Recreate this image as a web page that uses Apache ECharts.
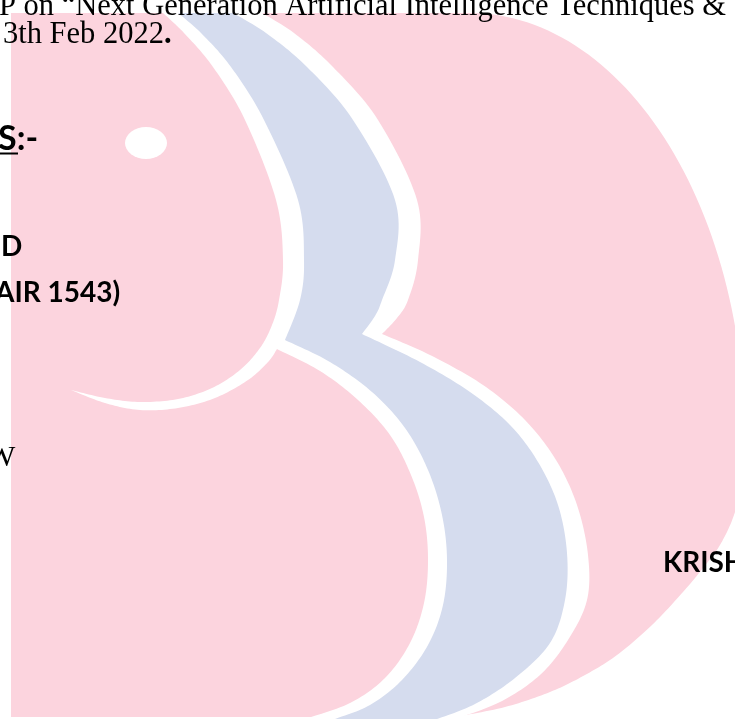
<!DOCTYPE html>
<html><head><meta charset="utf-8">
<script src="https://cdn.jsdelivr.net/npm/echarts@6/dist/echarts.min.js"></script>
<style>html,body{margin:0;padding:0;background:#fff;overflow:hidden}#c{width:735px;height:719px}</style>
</head><body><div id="c"></div>
<script>
// ---- text content ----
const headerLines = ['P on \u201cNext Generation Artificial Intelligence Techniques &', '3th Feb 2022'];
const headingLabel = 'S:-';
const boldLabels = ['D', 'AIR 1543)', 'KRISH'];
const serifFragment = 'W';

// ---- logo outline geometry ----
const dTopEdge = [[11, 13], [470, 13]];
const dUpperEllipse = {cx: 470, cy: 440, rx: 275, ry: 427};
const dLowerCurve = [[745,440],[742,480],[734,515],[720,545],[703,568],[683,592],[652,625],[617,655],[585,675],[550,692],[505,707],[455,717]];
const dBottomEdge = [[455,717],[11,717]];

const whiteUpperLeft = [[163,13],[184,33],[213,67],[245,120],[276,200],[283,260],[279,300],[272,325],[260,348],[240,370],[212,388],[178,399],[140,402],[105,398],[71,390]];
const whiteArcUnder = [[71,390],[105,403],[140,410],[178,408],[215,398],[248,380],[268,362],[277,349]];
const whiteLowerLeft = [[277,349],[320,371],[358,400],[390,435],[411,475],[424,517],[428,560],[424,603],[410,643],[385,678],[350,703],[305,719]];
const whiteLowerRight = [[455,719],[500,702],[540,675],[568,640],[587,600],[588,555],[577,505],[556,460],[525,420],[483,385],[430,355],[382,334]];
const whiteUpperRight = [[382,334],[397,318],[408,300],[418,260],[417,200],[378,120],[333,67],[294,33],[262,13]];

const blueUpperLeft = [[178,13],[201,33],[231,67],[264,120],[298,200],[304,260],[300,300],[285,340]];
const blueLowerLeft = [[285,340],[330,362],[372,392],[405,428],[428,470],[442,515],[447,560],[443,605],[428,645],[402,680],[370,705],[335,719]];
const blueLowerRight = [[437,719],[475,704],[515,678],[550,643],[565,600],[567,553],[558,505],[538,462],[510,425],[470,392],[420,362],[362,334]];
const blueUpperRight = [[362,334],[375,316],[382,300],[395,260],[395,200],[353,120],[307,67],[266,33],[233,13]];

// Catmull-Rom sampling of a smooth open curve through the given points
function sampleSeg(pts) {
  if (pts.length === 2) return [pts[0].slice(), pts[1].slice()];
  const out = [];
  for (let i = 0; i < pts.length - 1; i++) {
    const p0 = pts[i - 1] || pts[i], p1 = pts[i], p2 = pts[i + 1], p3 = pts[i + 2] || pts[i + 1];
    const c1 = [p1[0] + (p2[0] - p0[0]) / 6, p1[1] + (p2[1] - p0[1]) / 6];
    const c2 = [p2[0] - (p3[0] - p1[0]) / 6, p2[1] - (p3[1] - p1[1]) / 6];
    const n = 14;
    for (let k = (i === 0 ? 0 : 1); k <= n; k++) {
      const t = k / n, u = 1 - t;
      out.push([
        u*u*u*p1[0] + 3*u*u*t*c1[0] + 3*u*t*t*c2[0] + t*t*t*p2[0],
        u*u*u*p1[1] + 3*u*u*t*c1[1] + 3*u*t*t*c2[1] + t*t*t*p2[1]
      ]);
    }
  }
  return out;
}
function ellipseQuarter(e) {
  const out = [];
  for (let k = 0; k <= 60; k++) {
    const a = -Math.PI / 2 + (Math.PI / 2) * k / 60;
    out.push([e.cx + e.rx * Math.cos(a), e.cy + e.ry * Math.sin(a)]);
  }
  return out;
}
function buildPoly(segs) {
  let pts = [];
  segs.forEach(function (s) { pts = pts.concat(s); });
  return pts;
}

const PINK = '#FCD4DE', BLUE = '#D5DCEE', WHITE = '#FFFFFF';
const dPoly = buildPoly([dTopEdge, ellipseQuarter(dUpperEllipse), sampleSeg(dLowerCurve), dBottomEdge]);
const whitePoly = buildPoly([whiteUpperLeft, whiteArcUnder, whiteLowerLeft, whiteLowerRight, whiteUpperRight].map(sampleSeg));
const bluePoly = buildPoly([blueUpperLeft, blueLowerLeft, blueLowerRight, blueUpperRight].map(sampleSeg));

const serif = '"Liberation Serif", "Times New Roman", serif';
const sans = 'Lato, "Open Sans", sans-serif';

const chart = echarts.init(document.getElementById('c'), null, {renderer: 'canvas'});
chart.setOption({
  animation: false,
  backgroundColor: '#fff',
  graphic: [
    {type: 'polygon', shape: {points: dPoly}, style: {fill: PINK}, z: 1},
    {type: 'polygon', shape: {points: whitePoly}, style: {fill: WHITE}, z: 2},
    {type: 'polygon', shape: {points: bluePoly}, style: {fill: BLUE}, z: 3},
    {type: 'circle', shape: {cx: 0, cy: 0, r: 21}, x: 146, y: 143, scaleY: 16 / 21, style: {fill: WHITE}, z: 3},
    {type: 'text', x: -1, y: 7, z: 10, style: {text: headerLines[0], font: '30.5px ' + serif, fill: '#000', textVerticalAlign: 'middle'}},
    {type: 'text', x: 3, y: 35, z: 10, style: {text: '{a|' + headerLines[1] + '}{b|.}', fill: '#000', textVerticalAlign: 'middle',
      rich: {a: {font: '30.5px ' + serif, fill: '#000'}, b: {font: 'bold 30.5px ' + serif, fill: '#000'}}}},
    {type: 'text', x: -2, y: 139, z: 10, style: {text: headingLabel, font: 'bold 34px ' + sans, fill: '#000', textVerticalAlign: 'middle'}},
    {type: 'line', shape: {x1: 0, y1: 153.5, x2: 18, y2: 153.5}, style: {stroke: '#000', lineWidth: 2}, z: 10},
    {type: 'text', x: 1, y: 247, z: 10, style: {text: boldLabels[0], font: 'bold 28px ' + sans, fill: '#000', textVerticalAlign: 'middle'}},
    {type: 'text', x: -5, y: 293, z: 10, style: {text: boldLabels[1], font: 'bold 28px ' + sans, fill: '#000', textVerticalAlign: 'middle'}},
    {type: 'text', x: 663, y: 563, z: 10, style: {text: boldLabels[2], font: 'bold 28px ' + sans, fill: '#000', textVerticalAlign: 'middle'}},
    {type: 'text', x: -13, y: 458, z: 10, style: {text: serifFragment, font: '30px ' + serif, fill: '#000', textVerticalAlign: 'middle'}}
  ]
});
</script>
</body></html>
